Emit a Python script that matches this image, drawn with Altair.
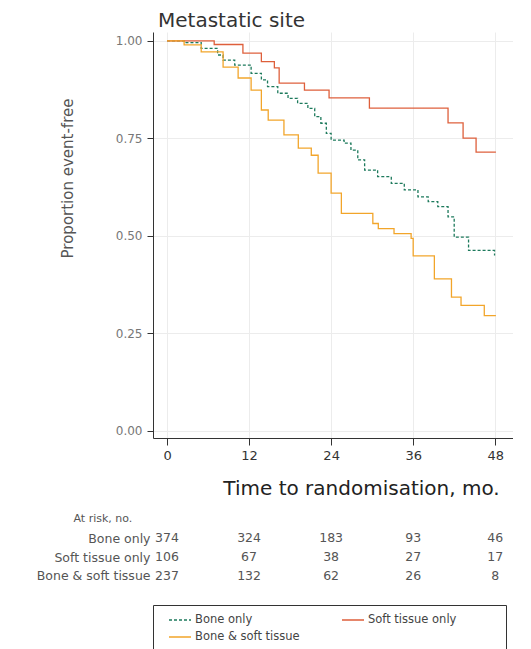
import altair as alt
import pandas as pd

groups = ["Bone only", "Soft tissue only", "Bone & soft tissue"]
colors = ["#1d7a5c", "#de5f3b", "#f2a52a"]
dashes = [[3, 2], [1, 0], [1, 0]]

# Kaplan-Meier step points (months, proportion event-free)
bone_t = [0, 2.5, 5.0, 7.4, 8.2, 9.9, 12.3, 13.8, 14.7, 16.2, 17.7, 19.1, 20.6, 21.6,
          22.5, 23.3, 24.0, 25.9, 26.9, 27.9, 28.9, 30.8, 32.8, 34.7, 36.7, 38.2,
          39.6, 41.1, 42.0, 44.1, 47.9]
bone_s = [1.0, 0.996, 0.981, 0.964, 0.951, 0.938, 0.917, 0.900, 0.883, 0.866, 0.853,
          0.840, 0.827, 0.806, 0.789, 0.763, 0.746, 0.738, 0.720, 0.695, 0.669, 0.652,
          0.635, 0.618, 0.600, 0.588, 0.575, 0.549, 0.497, 0.463, 0.450]

soft_t = [0, 6.9, 11.1, 13.8, 15.7, 16.4, 20.1, 23.7, 29.6, 41.1, 43.3, 45.2, 48.1]
soft_s = [1.0, 0.991, 0.969, 0.947, 0.931, 0.892, 0.874, 0.854, 0.828, 0.790, 0.751,
          0.715, 0.715]

both_t = [0, 2.5, 5.0, 8.2, 10.4, 12.3, 13.8, 14.8, 17.1, 19.2, 21.1, 22.1, 24.0, 25.5,
          30.1, 30.9, 33.2, 35.7, 36.0, 39.1, 41.6, 43.0, 46.4, 48.1]
both_s = [1.0, 0.99, 0.972, 0.933, 0.905, 0.874, 0.823, 0.797, 0.759, 0.725, 0.707,
          0.661, 0.610, 0.558, 0.532, 0.519, 0.506, 0.494, 0.449, 0.390, 0.343, 0.322,
          0.296, 0.296]

# Numbers at risk
risk_times = [0, 12, 24, 36, 48]
risk_bone = [374, 324, 183, 93, 46]
risk_soft = [106, 67, 38, 27, 17]
risk_both = [237, 132, 62, 26, 8]

x_ticks = [0, 12, 24, 36, 48]
y_ticks = [0, 0.25, 0.5, 0.75, 1.0]

# legend grid: (column, row) for each group
legend_col = [0, 1, 0]
legend_row = [0, 0, 1]

rows = []
for g, ts, ss in zip(groups, [bone_t, soft_t, both_t], [bone_s, soft_s, both_s]):
    for t, s in zip(ts, ss):
        rows.append({"group": g, "t": t, "s": s})
surv = pd.DataFrame(rows)

rrows = []
for g, ns in zip(groups, [risk_bone, risk_soft, risk_both]):
    for t, n in zip(risk_times, ns):
        rrows.append({"group": g, "t": t, "n": n})
risk_df = pd.DataFrame(rrows)

leg_df = pd.DataFrame({"group": groups, "col": legend_col, "row": legend_row})

FONT = "DejaVu Sans"
x_scale = alt.Scale(domain=[-2.05, 50.6], nice=False, zero=False)
PW = 360
color_scale = alt.Scale(domain=groups, range=colors)
dash_scale = alt.Scale(domain=groups, range=dashes)

main = alt.Chart(surv).mark_line(interpolate="step-after", strokeWidth=1.3).encode(
    x=alt.X("t:Q", scale=x_scale,
            axis=alt.Axis(values=x_ticks, title="Time to randomisation, mo.",
                          titleFont=FONT, titleFontSize=20, titleFontWeight="normal",
                          titleColor="#222", titleX=208, titleY=56, titleAlign="center",
                          titleBaseline="alphabetic",
                          labelFont=FONT, labelFontSize=13, labelColor="#333",
                          tickSize=7, labelPadding=4, domainColor="#333",
                          tickColor="#333", gridColor="#ececec")),
    y=alt.Y("s:Q", scale=alt.Scale(domain=[-0.018, 1.023], nice=False, zero=False),
            axis=alt.Axis(values=y_ticks, format=".2f", title="Proportion event-free",
                          titleFont=FONT, titleFontSize=15, titleFontWeight="normal",
                          titleColor="#555", titleX=-86, titleY=146, titleAlign="center",
                          titleBaseline="middle",
                          labelFont=FONT, labelFontSize=12, labelColor="#777",
                          tickSize=6, labelPadding=5, domainColor="#333",
                          tickColor="#333", gridColor="#ececec")),
    color=alt.Color("group:N", scale=color_scale, legend=None),
    strokeDash=alt.StrokeDash("group:N", scale=dash_scale, legend=None),
).properties(
    width=PW, height=406,
    title=alt.TitleParams("Metastatic site", anchor="start", frame="group", dx=5,
                          font=FONT, fontSize=20, fontWeight="normal", color="#333",
                          offset=1),
)

risk = alt.Chart(risk_df).mark_text(font=FONT, fontSize=12.5, color="#555").encode(
    x=alt.X("t:Q", scale=x_scale, axis=None),
    y=alt.Y("group:N", sort=groups,
            scale=alt.Scale(domain=groups, paddingInner=0, paddingOuter=0),
            axis=alt.Axis(title="At risk, no.", titleAngle=0, titleAlign="left",
                          titleBaseline="middle", titleX=-80, titleY=-11,
                          titleFont=FONT, titleFontSize=11, titleFontWeight="normal",
                          titleColor="#555", domain=False, ticks=False, grid=False,
                          labelFont=FONT, labelFontSize=12.5, labelColor="#555",
                          labelPadding=3)),
    text="n:Q",
).properties(width=PW, height=56)

leg_x = alt.X("col:O", scale=alt.Scale(domain=[0, 1], range=[27, 200], padding=0), axis=None)
leg_y = alt.Y("row:O", scale=alt.Scale(domain=[0, 1], range=[15, 32], padding=0), axis=None)

leg_sym = alt.Chart(leg_df).mark_point(shape="stroke", size=484, strokeWidth=1.3,
                                       opacity=1).encode(
    x=leg_x, y=leg_y,
    color=alt.Color("group:N", scale=color_scale, legend=None),
    strokeDash=alt.StrokeDash("group:N", scale=dash_scale, legend=None),
)
leg_txt = alt.Chart(leg_df).mark_text(align="left", dx=15, font=FONT, fontSize=11.5,
                                      color="#444", baseline="middle").encode(
    x=leg_x, y=leg_y, text="group:N",
)
legend_panel = alt.layer(leg_sym, leg_txt).properties(
    width=353, height=50,
    view=alt.ViewBackground(stroke="#333", strokeWidth=1),
)

chart = alt.vconcat(alt.vconcat(main, risk, spacing=14), legend_panel, spacing=19).properties(
    padding={"left": 28, "top": 3, "right": 0, "bottom": 0}
).configure_view(stroke=None)

chart.save("out.html", embed_options={"renderer": "svg", "actions": False})
